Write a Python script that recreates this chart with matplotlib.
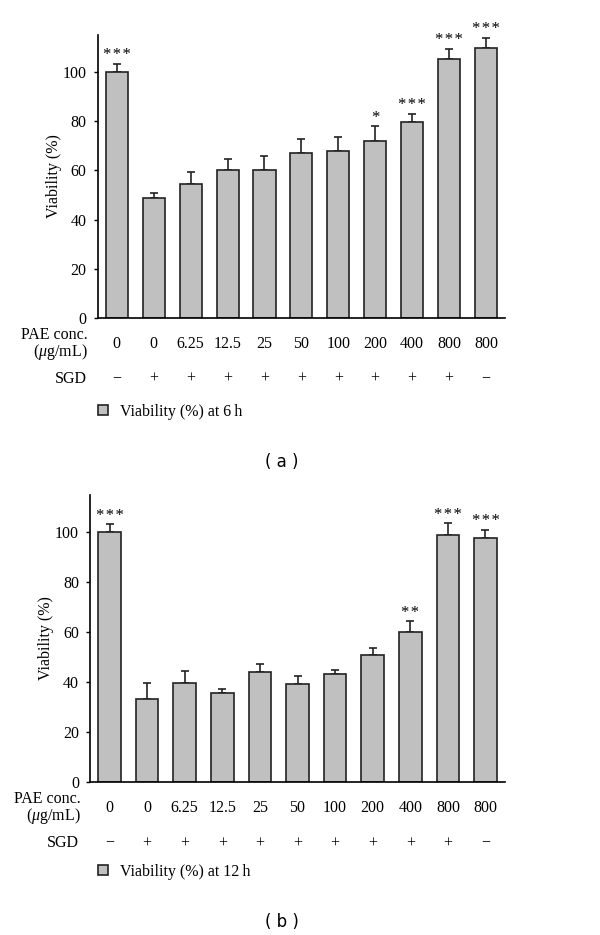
import matplotlib
matplotlib.use('Agg')
import matplotlib.pyplot as plt

# data
pae_conc = ['0', '0', '6.25', '12.5', '25', '50', '100', '200', '400', '800', '800']
sgd = ['\u2212', '+', '+', '+', '+', '+', '+', '+', '+', '+', '\u2212']

via_6h = [100, 48.6, 54.4, 60, 60, 66.9, 67.9, 72.1, 79.7, 105.2, 109.9]
err_6h = [3.4, 2.3, 5.0, 4.7, 5.9, 5.9, 5.6, 5.9, 3.3, 4.2, 3.9]
sig_6h = ['***', '', '', '', '', '', '', '*', '***', '***', '***']

via_12h = [100, 33.4, 39.7, 35.6, 43.9, 39.2, 43.2, 51.0, 60.3, 98.8, 97.6]
err_12h = [3.3, 6.2, 4.6, 1.7, 3.3, 3.2, 1.5, 2.7, 4.2, 4.8, 3.4]
sig_12h = ['***', '', '', '', '', '', '', '', '**', '***', '***']

plt.rcParams['font.family'] = ['Liberation Serif', 'DejaVu Serif']
plt.rcParams['mathtext.fontset'] = 'custom'
plt.rcParams['mathtext.rm'] = 'Liberation Serif'
plt.rcParams['mathtext.it'] = 'Liberation Serif:italic'

fs = 11.5
fig = plt.figure(figsize=(6, 9.35), dpi=100)


def panel(rect, vals, errs, sigs, legend_label, legend_y, caption, cap_y):
    ax = fig.add_axes(rect)
    x = list(range(len(vals)))
    ax.bar(x, vals, width=0.6, color='#c0c0c0', edgecolor='#222222', linewidth=1.2,
           label=legend_label, zorder=2)
    ax.errorbar(x, vals, yerr=[[0] * len(errs), errs], fmt='none', ecolor='#222222',
                elinewidth=1.2, capsize=3, capthick=1.2, zorder=1)
    for xi, v, e, s in zip(x, vals, errs, sigs):
        if s:
            ax.text(xi, v + e + 0.2, '\u200a'.join(s), ha='center', va='bottom', fontsize=12)
    ax.set_xlim(-0.52, 10.52)
    ax.set_ylim(0, 115)
    ax.set_yticks([0, 20, 40, 60, 80, 100])
    ax.set_xticks([])
    ax.spines['top'].set_visible(False)
    ax.spines['right'].set_visible(False)
    ax.spines['left'].set_linewidth(1.2)
    ax.spines['bottom'].set_linewidth(1.2)
    ax.tick_params(axis='y', direction='out', length=3, width=1.0, pad=5, labelsize=fs)
    ax.set_ylabel('Viability (%)', fontsize=fs, labelpad=0.5)

    # row labels below the axis
    for xi, c, s in zip(x, pae_conc, sgd):
        ax.annotate(c, xy=(xi, 0), xycoords=('data', 'axes fraction'), xytext=(0, -19),
                    textcoords='offset points', ha='center', va='center', fontsize=fs)
        ax.annotate(s, xy=(xi, 0), xycoords=('data', 'axes fraction'), xytext=(0, -44),
                    textcoords='offset points', ha='center', va='center', fontsize=fs)
    ax.annotate('PAE conc.\n($\\mathit{\\mu}$g/mL)', xy=(0, 0), xycoords='axes fraction',
                xytext=(-7, -19), textcoords='offset points', ha='right', va='center',
                fontsize=fs, multialignment='right', linespacing=0.95)
    ax.annotate('SGD', xy=(0, 0), xycoords='axes fraction', xytext=(-8, -44),
                textcoords='offset points', ha='right', va='center', fontsize=fs)

    fig.legend(loc='center left', bbox_to_anchor=(98 / 600, 1 - legend_y / 935),
               frameon=False, fontsize=fs, handlelength=0.65, handleheight=0.65,
               handletextpad=0.7, borderpad=0, borderaxespad=0,
               handles=ax.get_legend_handles_labels()[0][:1],
               labels=[legend_label])
    fig.text(282 / 600, 1 - cap_y / 935, caption, ha='center', va='center',
             fontsize=12, family='DejaVu Sans')
    return ax


panel([0.1628, 0.6599, 0.679, 0.3027], via_6h, err_6h, sig_6h,
      'Viability (%) at 6\u2009h', 411.7, '( a )', 461.7)
panel([0.15, 0.1636, 0.6917, 0.307], via_12h, err_12h, sig_12h,
      'Viability (%) at 12\u2009h', 871.7, '( b )', 921.7)

plt.savefig('out.png', dpi=100)
